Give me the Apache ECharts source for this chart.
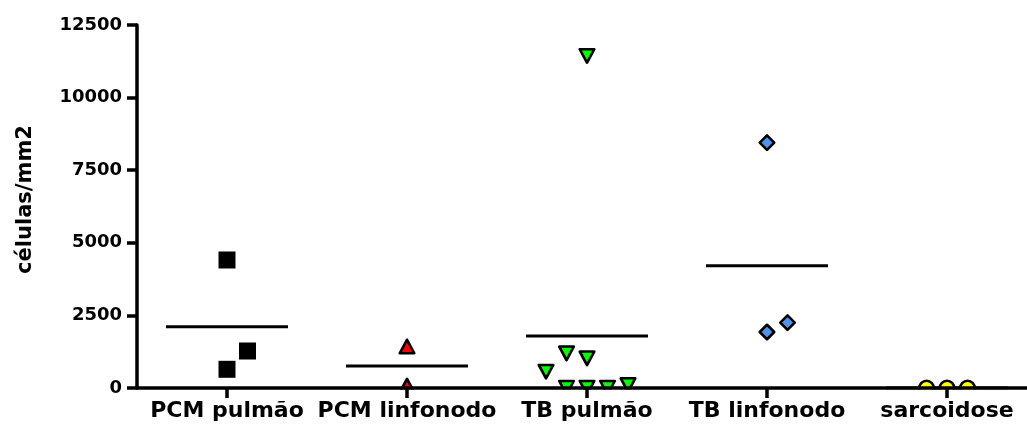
<!DOCTYPE html>
<html>
<head>
<meta charset="utf-8">
<script src="https://cdn.jsdelivr.net/npm/echarts@6/dist/echarts.min.js"></script>
<style>html,body{margin:0;padding:0;background:#fff;}#c{width:1027px;height:426px;}</style>
</head>
<body>
<div id="c"></div>
<script>
// ---- data ----
const categories = ['PCM pulmão', 'PCM linfonodo', 'TB pulmão', 'TB linfonodo', 'sarcoidose'];
const pcmPulmao = [4408, 1274, 644];
const pcmLinfonodo = [1430, 80];
const tbPulmao = [11433, 1194, 1022, 563, 10, 10, 10, 100];
const tbLinfonodo = [8448, 1928, 2250];
const sarcoidose = [0, 0, 0];
const yTicks = [0, 2500, 5000, 7500, 10000, 12500];
const yAxisTitle = 'células/mm2';

// ---- layout (side-by-side slots for overlapping points) ----
const slotsPcmPulmao = [0, 1, 0];
const slotsPcmLinfonodo = [0, 0];
const slotsTbPulmao = [0, -1, 0, -2, -1, 0, 1, 2];
const slotsTbLinfonodo = [0, 0, 1];
const slotsSarcoidose = [-1, 0, 1];
const SLOT_PX = 20.5;

const groups = [
  { vals: pcmPulmao, slots: slotsPcmPulmao, symbol: 'rect', size: 17, fill: '#000000', border: 0 },
  { vals: pcmLinfonodo, slots: slotsPcmLinfonodo, symbol: 'triangle', size: [14.5, 13.5], fill: '#ff0000', border: 2.6 },
  { vals: tbPulmao, slots: slotsTbPulmao, symbol: 'triangle', size: [14.5, 13.5], fill: '#00ff00', border: 2.6, rotate: 180 },
  { vals: tbLinfonodo, slots: slotsTbLinfonodo, symbol: 'diamond', size: 14.5, fill: '#4f94ec', border: 2.6 },
  { vals: sarcoidose, slots: slotsSarcoidose, symbol: 'circle', size: 14.5, fill: '#ffff00', border: 2.6 }
];

const series = groups.map((g, gi) => ({
  type: 'scatter',
  z: 3,
  symbol: g.symbol,
  symbolSize: g.size,
  symbolRotate: g.rotate || 0,
  itemStyle: { color: g.fill, borderColor: '#000', borderWidth: g.border, borderJoin: 'round', opacity: 1 },
  emphasis: { disabled: true },
  data: g.vals.map((v, i) => ({ value: [gi, v], symbolOffset: [g.slots[i] * SLOT_PX, 0] }))
}));

const means = groups.map(g => g.vals.reduce((a, b) => a + b, 0) / g.vals.length);
series.push({
  type: 'scatter',
  z: 2,
  symbol: 'rect',
  symbolSize: [122, 3],
  itemStyle: { color: '#000', opacity: 1 },
  emphasis: { disabled: true },
  data: means.map((m, i) => [i, m])
});

// white mask below the x axis so marks at zero are cut by the axis
series.push({
  type: 'custom',
  z: 5,
  silent: true,
  data: [[0, 0]],
  renderItem: function (params, api) {
    const cs = params.coordSys;
    return {
      type: 'rect',
      shape: { x: cs.x + 2, y: cs.y + cs.height + 1.5, width: cs.width, height: 40 },
      style: { fill: '#ffffff' }
    };
  }
});

const font = "'DejaVu Sans', sans-serif";
const chart = echarts.init(document.getElementById('c'), null, { renderer: 'canvas' });
chart.setOption({
  animation: false,
  backgroundColor: '#fff',
  grid: { left: 137, right: -10, top: 25, bottom: 38, containLabel: false, outerBoundsMode: 'none' },
  xAxis: {
    type: 'category',
    data: categories,
    boundaryGap: true,
    z: 10,
    axisLine: { show: true, lineStyle: { color: '#000', width: 3.5 } },
    axisTick: { show: true, alignWithLabel: true, length: 10, lineStyle: { color: '#000', width: 3.5 } },
    axisLabel: { interval: 0, margin: 12, color: '#000', fontFamily: font, fontWeight: 'bold', fontSize: 22, hideOverlap: false },
    splitLine: { show: false }
  },
  yAxis: {
    type: 'value',
    min: yTicks[0],
    max: yTicks[yTicks.length - 1],
    interval: yTicks[1] - yTicks[0],
    z: 10,
    name: yAxisTitle,
    nameLocation: 'middle',
    nameRotate: 90,
    nameGap: 101,
    nameTextStyle: { color: '#000', fontFamily: font, fontWeight: 'bold', fontSize: 21, padding: [0, 0, 0, 14] },
    axisLine: { show: true, lineStyle: { color: '#000', width: 3.5 } },
    axisTick: { show: true, length: 10, lineStyle: { color: '#000', width: 3.5 } },
    axisLabel: { margin: 15, color: '#000', fontFamily: font, fontWeight: 'bold', fontSize: 18, showMinLabel: true, showMaxLabel: true, formatter: v => String(v) },
    splitLine: { show: false }
  },
  series: series
});
</script>
</body>
</html>
